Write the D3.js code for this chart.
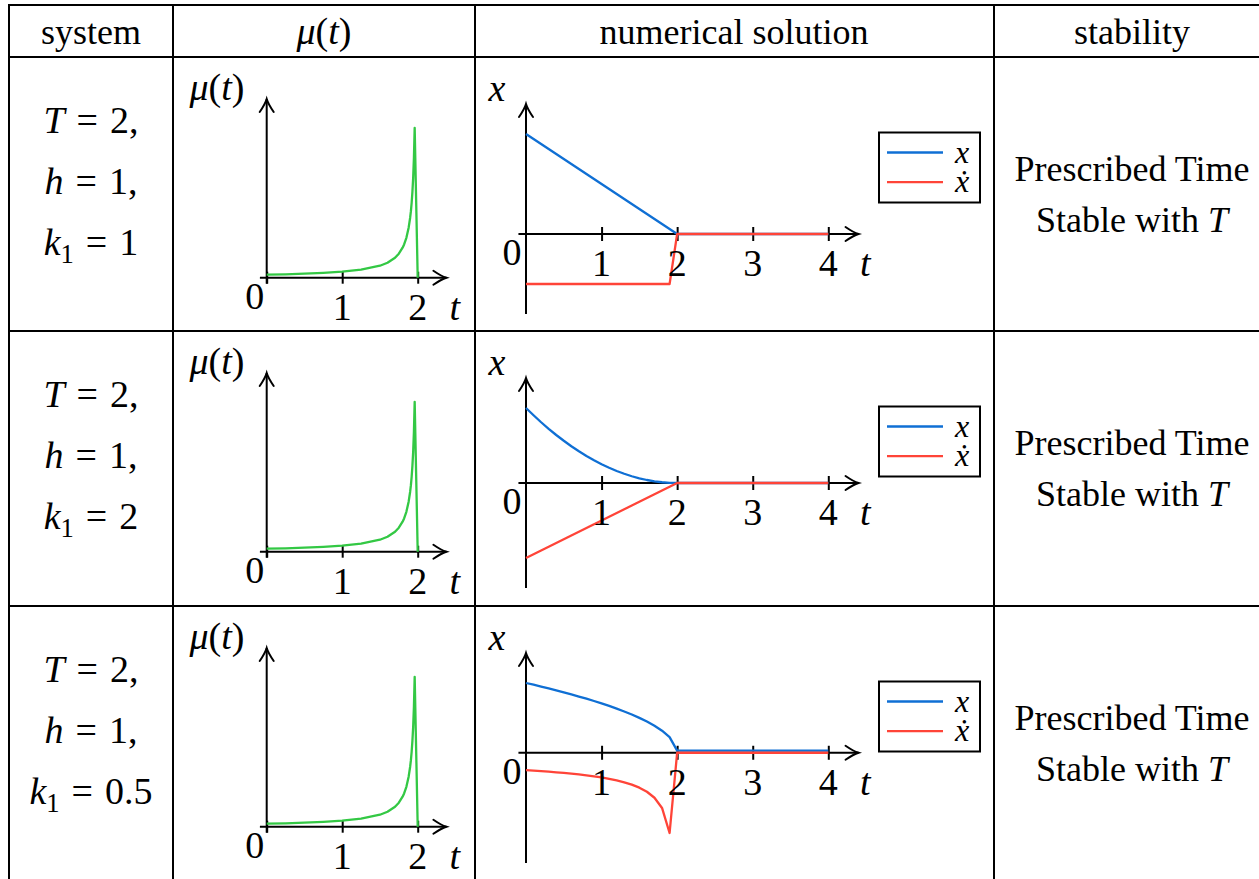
<!DOCTYPE html>
<html><head><meta charset="utf-8">
<script src="https://cdn.jsdelivr.net/npm/d3@7"></script>
<style>
html,body{margin:0;padding:0;background:#fff;}
svg{display:block;}
text{font-family:"Liberation Serif","Tinos","DejaVu Serif","Times New Roman",serif;fill:#000;}
</style></head>
<body>
<svg id="chart" width="1259" height="879"></svg>
<script>
// ---------- data ----------
const headers = ["system", "μ(t)", "numerical solution", "stability"];
const sysT  = ["2", "2", "2"];
const sysH  = ["1", "1", "1"];
const sysK1 = ["1", "2", "0.5"];
const stabilityLine1 = ["Prescribed Time", "Prescribed Time", "Prescribed Time"];
const stabilityLine2 = ["Stable with ", "Stable with ", "Stable with "];
const muTicks = [0, 1, 2];
const numTicks = [1, 2, 3, 4];
const legendLabels = ["x", "ẋ"];

// mu(t) curve (same in every row)
const tMu = [0, 0.25, 0.5, 0.75, 1.0, 1.25, 1.5, 1.6, 1.7, 1.75, 1.8, 1.82, 1.85, 1.88, 1.9, 1.91, 1.92, 1.93, 1.94, 1.95, 1.96, 2.0];
const muVals = [1, 1.14, 1.33, 1.6, 2.0, 2.67, 4.0, 5.0, 6.67, 8.0, 10.0, 11.1, 13.3, 16.7, 20.0, 22.2, 25.0, 28.6, 33.3, 40.0, 50.0, 0];

// numerical solutions
const tNum = [0, 0.1, 0.2, 0.3, 0.4, 0.5, 0.6, 0.7, 0.8, 0.9, 1.0, 1.1, 1.2, 1.3, 1.4, 1.5, 1.6, 1.7, 1.8, 1.9, 2.0, 4.0];
const x_k1  = [1, 0.95, 0.9, 0.85, 0.8, 0.75, 0.7, 0.65, 0.6, 0.55, 0.5, 0.45, 0.4, 0.35, 0.3, 0.25, 0.2, 0.15, 0.1, 0.05, 0, 0];
const dx_k1 = [-0.5, -0.5, -0.5, -0.5, -0.5, -0.5, -0.5, -0.5, -0.5, -0.5, -0.5, -0.5, -0.5, -0.5, -0.5, -0.5, -0.5, -0.5, -0.5, -0.5, 0, 0];
const x_k2  = [1, 0.903, 0.81, 0.723, 0.64, 0.563, 0.49, 0.423, 0.36, 0.303, 0.25, 0.203, 0.16, 0.123, 0.09, 0.063, 0.04, 0.023, 0.01, 0.003, 0, 0];
const dx_k2 = [-1, -0.95, -0.9, -0.85, -0.8, -0.75, -0.7, -0.65, -0.6, -0.55, -0.5, -0.45, -0.4, -0.35, -0.3, -0.25, -0.2, -0.15, -0.1, -0.05, 0, 0];
const x_k05  = [1, 0.975, 0.949, 0.922, 0.894, 0.866, 0.837, 0.806, 0.775, 0.742, 0.707, 0.671, 0.632, 0.592, 0.548, 0.5, 0.447, 0.387, 0.316, 0.224, 0.03, 0.03];
const dx_k05 = [-0.25, -0.256, -0.264, -0.271, -0.28, -0.289, -0.299, -0.31, -0.323, -0.337, -0.354, -0.373, -0.395, -0.423, -0.456, -0.5, -0.559, -0.645, -0.791, -1.15, 0, 0];
const xSeries  = [x_k1, x_k2, x_k05];
const dxSeries = [dx_k1, dx_k2, dx_k05];

// ---------- layout ----------
const W = 1259, H = 879;
const colX = [9, 173, 475, 994];
const headTop = 5, rowTops = [57, 331, 606];
const BLUE = "#0f6fd4", RED = "#ff4438", GREEN = "#33c844";
const TXT = 36, MATH = 38;
const FONT = "'Liberation Serif', Tinos, 'DejaVu Serif', 'Times New Roman', serif";

const svg = d3.select("#chart");
const grid = svg.append("g").attr("stroke", "#000").attr("stroke-width", 2);
[headTop, ...rowTops].forEach(y => grid.append("line").attr("x1", colX[0] - 1).attr("x2", W).attr("y1", y).attr("y2", y));
colX.forEach(x => grid.append("line").attr("x1", x).attr("x2", x).attr("y1", headTop - 1).attr("y2", H));

function txt(g, x, y, size, anchor) {
  return g.append("text").attr("x", x).attr("y", y).attr("font-size", size)
    .attr("text-anchor", anchor || "middle").style("font-family", FONT);
}

// headers
const headCx = [91, 324, 734, 1132];
headers.forEach((h, i) => {
  const t = txt(svg, headCx[i], 44, TXT);
  if (i === 1) {
    t.attr("font-size", MATH);
    t.append("tspan").attr("font-style", "italic").text("μ");
    t.append("tspan").text("(");
    t.append("tspan").attr("font-style", "italic").text("t");
    t.append("tspan").text(")");
  } else t.text(h);
});

function arrowHead(g, x, y, dir) {
  const p = dir === "right"
    ? `M${x - 13},${y - 7} Q${x - 5},${y - 1.5} ${x},${y} Q${x - 5},${y + 1.5} ${x - 13},${y + 7}`
    : `M${x - 7},${y + 13} Q${x - 1.5},${y + 5} ${x},${y} Q${x + 1.5},${y + 5} ${x + 7},${y + 13}`;
  g.append("path").attr("d", p).attr("fill", "none").attr("stroke", "#000").attr("stroke-width", 2).attr("stroke-linecap", "round");
}

function mathText(g, x, y, parts, anchor, size) {
  const fs = size || MATH;
  const t = txt(g, x, y, fs, anchor);
  parts.forEach(p => {
    const s = t.append("tspan").text(p.s);
    if (p.it) s.attr("font-style", "italic");
    if (p.sub) s.attr("font-size", fs * 0.7).attr("dy", 8);
    if (p.unsub) s.attr("dy", -8);
    if (p.dx) s.attr("dx", p.dx);
  });
  return t;
}

rowTops.forEach((top, r) => {
  const g = svg.append("g");
  // system column
  mathText(g, 91, top + 76, [{s: "T", it: true}, {s: "=", dx: 12}, {s: sysT[r] + ",", dx: 12}]);
  mathText(g, 91, top + 137, [{s: "h", it: true}, {s: "=", dx: 12}, {s: sysH[r] + ",", dx: 12}]);
  mathText(g, 91, top + 198, [{s: "k", it: true}, {s: "1", sub: true}, {s: "=", unsub: true, dx: 12}, {s: sysK1[r], dx: 12}]);

  // stability column
  txt(g, 1132, top + 124, TXT).text(stabilityLine1[r]);
  const st = txt(g, 1132, top + 175, TXT);
  st.append("tspan").text(stabilityLine2[r]);
  st.append("tspan").attr("font-style", "italic").text("T");

  // ---- mu(t) plot ----
  const muAxisY = top + 220.7;
  const mx = d3.scaleLinear().domain([0, 2]).range([266.7, 417.7]);
  const my = d3.scaleLinear().domain([0, 59.6]).range([muAxisY, muAxisY - 178.7]);
  const mg = g.append("g");
  const mAxis = mg.append("g").attr("transform", `translate(0,${muAxisY})`)
    .call(d3.axisBottom(mx).tickValues(muTicks).tickSize(6).tickFormat(""));
  mAxis.select(".domain").remove();
  mAxis.selectAll(".tick line").attr("y1", -6).attr("y2", 6).attr("stroke", "#000").attr("stroke-width", 2);
  mg.append("line").attr("x1", mx(-0.09)).attr("x2", mx(2.38)).attr("y1", muAxisY).attr("y2", muAxisY).attr("stroke", "#000").attr("stroke-width", 2);
  arrowHead(mg, mx(2.38), muAxisY, "right");
  mg.append("line").attr("x1", mx(0)).attr("x2", mx(0)).attr("y1", muAxisY + 6).attr("y2", my(59.6)).attr("stroke", "#000").attr("stroke-width", 2);
  arrowHead(mg, mx(0), my(59.6), "up");
  mg.append("path").datum(tMu.map((t, i) => [t, muVals[i]]))
    .attr("d", d3.line().x(d => mx(d[0])).y(d => my(d[1])))
    .attr("fill", "none").attr("stroke", GREEN).attr("stroke-width", 2.3).attr("stroke-linejoin", "round");
  muTicks.forEach(v => {
    if (v === 0) mathText(mg, mx(0) - 12, muAxisY + 31, [{s: "0"}]);
    else mathText(mg, mx(v), muAxisY + 42, [{s: String(v)}]);
  });
  mathText(mg, mx(2) + 37, muAxisY + 42, [{s: "t", it: true}]);
  mathText(mg, 217, top + 43, [{s: "μ", it: true}, {s: "("}, {s: "t", it: true}, {s: ")"}]);

  // ---- numerical solution plot ----
  const xs = xSeries[r], dxs = dxSeries[r];
  const lo = Math.min(d3.min(xs), d3.min(dxs)), hi = Math.max(d3.max(xs), d3.max(dxs));
  const rg = hi - lo;
  const nx = d3.scaleLinear().domain([0, 4]).range([526, 828.3]);
  const ny = d3.scaleLinear().domain([lo - 0.2 * rg, hi + 0.2 * rg]).range([top + 257, top + 47]);
  const ng = g.append("g");
  const ay = ny(0);
  ng.append("line").attr("x1", nx(-0.1)).attr("x2", nx(4.4)).attr("y1", ay).attr("y2", ay).attr("stroke", "#000").attr("stroke-width", 2);
  arrowHead(ng, nx(4.4), ay, "right");
  ng.append("line").attr("x1", nx(0)).attr("x2", nx(0)).attr("y1", ny.range()[0]).attr("y2", ny.range()[1]).attr("stroke", "#000").attr("stroke-width", 2);
  arrowHead(ng, nx(0), ny.range()[1], "up");
  const nAxis = ng.append("g").attr("transform", `translate(0,${ay})`)
    .call(d3.axisBottom(nx).tickValues(numTicks).tickSize(7).tickFormat(""));
  nAxis.select(".domain").remove();
  nAxis.selectAll(".tick line").attr("y1", -7).attr("y2", 7).attr("stroke", "#000").attr("stroke-width", 2);
  const line = d3.line().x(d => nx(d[0])).y(d => ny(d[1]));
  ng.append("path").datum(tNum.map((t, i) => [t, xs[i]])).attr("d", line)
    .attr("fill", "none").attr("stroke", BLUE).attr("stroke-width", 2.3).attr("stroke-linejoin", "round");
  ng.append("path").datum(tNum.map((t, i) => [t, dxs[i]])).attr("d", line)
    .attr("fill", "none").attr("stroke", RED).attr("stroke-width", 2.3).attr("stroke-linejoin", "round");
  mathText(ng, nx(0) - 14, ay + 31, [{s: "0"}]);
  numTicks.forEach(v => mathText(ng, nx(v), ay + 42, [{s: String(v)}]));
  mathText(ng, nx(4) + 37, ay + 42, [{s: "t", it: true}]);
  mathText(ng, 497, top + 44, [{s: "x", it: true}]);

  // legend
  const lg = g.append("g");
  lg.append("rect").attr("x", 879).attr("y", top + 75.5).attr("width", 101).attr("height", 70)
    .attr("fill", "#fff").attr("stroke", "#000").attr("stroke-width", 2);
  const lt = txt(lg, 962, top + 105.5, 32).attr("font-style", "italic");
  [BLUE, RED].forEach((c, i) => {
    const ly = top + 95.5 + i * 29.7;
    lg.append("line").attr("x1", 887).attr("x2", 943).attr("y1", ly).attr("y2", ly).attr("stroke", c).attr("stroke-width", 2.3);
    lt.append("tspan").attr("x", 962).attr("y", ly + 10).text(legendLabels[i]);
  });
});
</script>
</body></html>
